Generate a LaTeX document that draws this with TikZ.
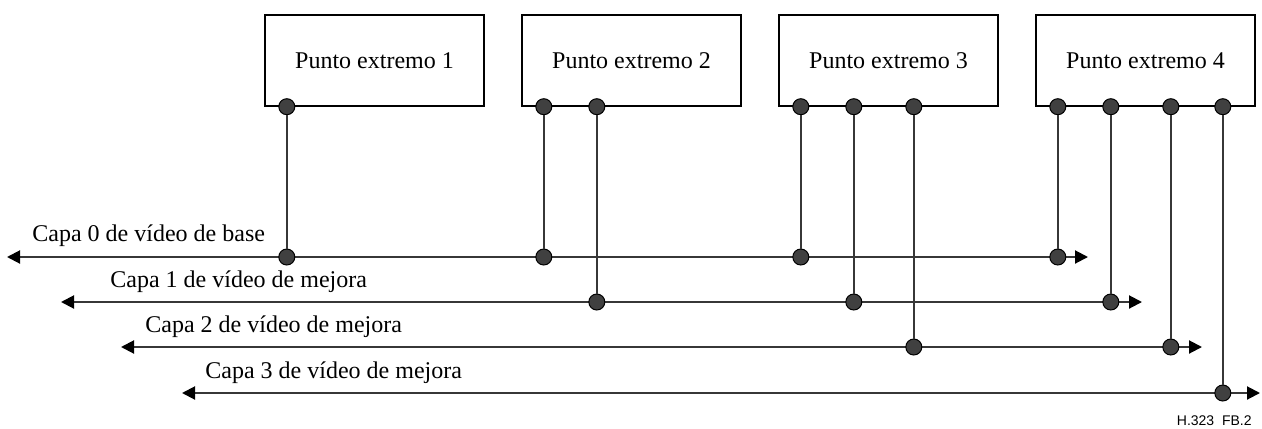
\documentclass[tikz,border=0pt]{standalone}
\usepackage{fontspec}
\setmainfont{Liberation Serif}
\newfontfamily\tagfont{Liberation Sans}
\usetikzlibrary{arrows.meta,positioning,calc}
\definecolor{dotgray}{RGB}{64,64,64}
\definecolor{linegray}{RGB}{55,55,55}

\begin{document}
\begin{tikzpicture}[x=0.5pt,y=-0.5pt,
  endpoint/.style={draw,line width=0.7pt,minimum width=109.5pt,minimum height=45.5pt,
                   inner sep=0pt,font=\fontsize{12}{14}\selectfont},
  port/.style={circle,draw=black,line width=0.5pt,fill=dotgray,minimum size=8pt,inner sep=0pt},
  layer/.style={{Triangle[length=6.5pt,width=6.5pt,color=black]}-{Triangle[length=6.5pt,width=6.5pt,color=black]},
                line width=1pt,draw=linegray},
  tap/.style={line width=0.8pt,draw=linegray},
  lbl/.style={anchor=base west,inner sep=0pt,font=\fontsize{12}{14}\selectfont}
]
\useasboundingbox (0,0) rectangle (1262,428);

% endpoints
\foreach \ep/\x in {1/265,2/522,3/779,4/1036}
  \node[endpoint] (ep\ep) at (\x+109.5,60.5) {Punto extremo \ep};

% video layers
\foreach \layer/\xa/\xb/\y in {0/7/1088/257,1/61/1142/302,2/121/1202/347,3/182/1260/393}{
  \coordinate (la\layer) at (\xa,\y);
  \coordinate (lb\layer) at (\xb,\y);
  \draw[layer] (la\layer) -- (lb\layer);
}
\node[lbl] (cap0) at (32,241) {Capa 0 de vídeo de base};
\node[lbl] (cap1) at (110,287) {Capa 1 de vídeo de mejora};
\node[lbl] (cap2) at (145,332) {Capa 2 de vídeo de mejora};
\node[lbl] (cap3) at (205,378) {Capa 3 de vídeo de mejora};

% ports and taps
\foreach \ep in {1,...,4}{
  \pgfmathtruncatemacro\last{\ep-1}
  \foreach \layer in {0,...,\last}{
    \pgfmathsetmacro\dx{{22.5,75.5,135.5,187.5}[\layer]}
    \node[port] (p\ep\layer) at ($(ep\ep.south west)+(\dx,0)$) {};
    \node[port] (t\ep\layer) at (p\ep\layer |- la\layer) {};
    \draw[tap] (p\ep\layer) -- (t\ep\layer);
  }
}

\node[anchor=base east,inner sep=0pt,font=\tagfont\fontsize{7}{8}\selectfont] (tag)
  at (1252,425) {H.323~~FB.2};
\end{tikzpicture}
\end{document}
